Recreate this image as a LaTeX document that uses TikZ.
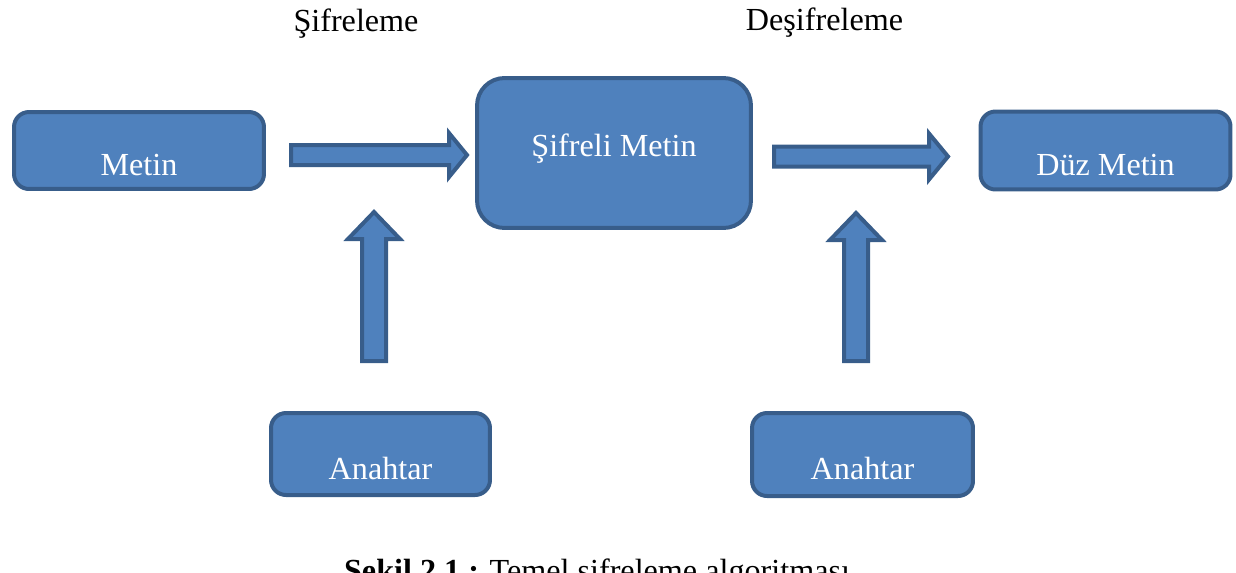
\documentclass[tikz,border=0pt]{standalone}
\usepackage{fontspec}
\setmainfont{Liberation Serif}
\usepackage{tikz}

\definecolor{boxfill}{HTML}{4F81BD}
\definecolor{boxline}{HTML}{385D8A}

\begin{document}
\begin{tikzpicture}[x=0.02cm,y=-0.02cm]
            \tikzstyle{box}=[rectangle,rounded corners=0.3cm,draw=boxline,fill=boxfill,line width=0.08cm,inner sep=0pt,text=white,font=\fontsize{18.3}{22}\selectfont,text height=28.5pt,text depth=0pt]
            \tikzstyle{bigbox}=[box,rounded corners=0.55cm,text height=12pt,text depth=7.5pt]
            \tikzstyle{blockarrow}=[draw=boxline,fill=boxfill,line width=0.08cm,miter limit=4]
            \tikzstyle{title}=[anchor=base,inner sep=0pt,font=\fontsize{18.3}{22}\selectfont]
                \useasboundingbox (0,0) rectangle (1236,572);

                % boxes
                \node[box,minimum width=5cm,minimum height=1.54cm] (Metin) at (139, 150.5){Metin};
                \node[bigbox,minimum width=5.48cm,minimum height=3cm] (Sifreli) at (614, 153){Şifreli Metin};
                \node[box,minimum width=5cm,minimum height=1.56cm] (Duz) at (1105.5, 150.5){Düz Metin};
                \node[box,minimum width=4.38cm,minimum height=1.64cm] (Anahtar-1) at (380.5, 454){Anahtar};
                \node[box,minimum width=4.42cm,minimum height=1.66cm] (Anahtar-2) at (862.5, 454.5){Anahtar};

                % block arrows: tail x/y, length, head length, shaft half, head half, direction
                \foreach \x/\y/\len/\hl/\sh/\hh/\rot in {291/155/176/18/10/22/0, 774/156.5/174/19/10/23/0, 374/361/149/27/12/26/90, 856/361/148/27/12/26/90}
                    \draw[blockarrow,shift={(\x,\y)},rotate=\rot] (0,-\sh) -- (\len-\hl,-\sh) -- (\len-\hl,-\hh) -- (\len,0)
                        -- (\len-\hl,\hh) -- (\len-\hl,\sh) -- (0,\sh) -- cycle;

                % labels
                \node[title] (Sifreleme) at (356, 31){Şifreleme};
                \node[title] (Desifreleme) at (824.5, 30){Deşifreleme};
                \node[title] (Caption) at (597, 581){\textbf{Şekil 2.1 :} Temel şifreleme algoritması};
        \end{tikzpicture}
\end{document}
